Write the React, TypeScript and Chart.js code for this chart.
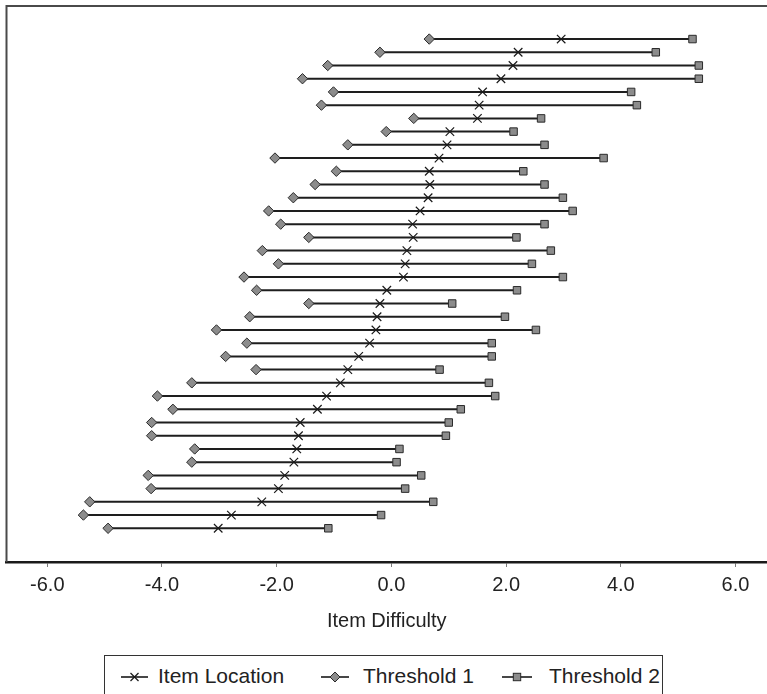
import React, { useEffect, useRef } from 'react';
import { Chart, registerables } from 'chart.js';

Chart.register(...registerables);

// ---- data ----
const ITEMS = [
  1, 2, 3, 4, 5, 6, 7, 8, 9, 10, 11, 12, 13, 14, 15, 16, 17, 18, 19,
  20, 21, 22, 23, 24, 25, 26, 27, 28, 29, 30, 31, 32, 33, 34, 35, 36, 37, 38,
];
const THRESHOLD_1 = [
  0.66, -0.2, -1.11, -1.55, -1.01, -1.22, 0.39, -0.09, -0.76, -2.03,
  -0.96, -1.33, -1.71, -2.14, -1.93, -1.44, -2.25, -1.97, -2.57, -2.35,
  -1.44, -2.47, -3.05, -2.52, -2.89, -2.36, -3.48, -4.08, -3.81, -4.18,
  -4.18, -3.43, -3.48, -4.24, -4.19, -5.26, -5.37, -4.94,
];
const ITEM_LOCATION = [
  2.96, 2.21, 2.12, 1.91, 1.59, 1.53, 1.5, 1.02, 0.97, 0.83,
  0.66, 0.67, 0.64, 0.5, 0.37, 0.38, 0.27, 0.24, 0.21, -0.08,
  -0.2, -0.25, -0.27, -0.38, -0.57, -0.76, -0.89, -1.13, -1.29, -1.59,
  -1.62, -1.65, -1.7, -1.86, -1.97, -2.26, -2.79, -3.02,
];
const THRESHOLD_2 = [
  5.25, 4.61, 5.36, 5.36, 4.18, 4.28, 2.61, 2.13, 2.67, 3.7,
  2.3, 2.67, 2.99, 3.16, 2.67, 2.18, 2.78, 2.45, 2.99, 2.19,
  1.06, 1.98, 2.52, 1.75, 1.75, 0.84, 1.7, 1.81, 1.21, 1.0,
  0.95, 0.14, 0.09, 0.52, 0.24, 0.73, -0.18, -1.1,
];
const X_TICKS = [-6, -4, -2, 0, 2, 4, 6];
const SERIES_NAMES = ['Item Location', 'Threshold 1', 'Threshold 2'];
const AXIS_TITLE = 'Item Difficulty';

const FONT = '"Liberation Sans", Arial, Helvetica, sans-serif';
const MARKER_FILL = '#8c8c8c';
const MARKER_EDGE = '#2a2a2a';

const framePlugin = {
  id: 'frame',
  afterDraw(chart: any) {
    const { ctx, chartArea, width } = chart;
    const { left, top, bottom } = chartArea;
    ctx.save();
    ctx.strokeStyle = '#4a4a4a';
    ctx.lineWidth = 2;
    ctx.beginPath();
    ctx.moveTo(left, bottom);
    ctx.lineTo(left, top);
    ctx.lineTo(width + 2, top);
    ctx.stroke();
    ctx.restore();
  },
};

function Icon({ kind, width }: { kind: string; width: number }) {
  const h = 14;
  const cy = h / 2;
  const cx = width / 2;
  let marker: React.ReactNode = null;
  if (kind === 'cross') {
    marker = (
      <g stroke="#1a1a1a" strokeWidth={1.2}>
        <line x1={cx - 4} y1={cy - 4} x2={cx + 4} y2={cy + 4} />
        <line x1={cx - 4} y1={cy + 4} x2={cx + 4} y2={cy - 4} />
      </g>
    );
  } else if (kind === 'diamond') {
    marker = (
      <polygon
        points={`${cx},${cy - 5} ${cx + 5},${cy} ${cx},${cy + 5} ${cx - 5},${cy}`}
        fill={MARKER_FILL}
        stroke={MARKER_EDGE}
        strokeWidth={1}
      />
    );
  } else {
    marker = (
      <rect x={cx - 3.7} y={cy - 3.7} width={7.4} height={7.4} fill={MARKER_FILL} stroke={MARKER_EDGE} strokeWidth={1} />
    );
  }
  return (
    <svg width={width} height={h} style={{ display: 'block' }}>
      <line x1={0} y1={cy} x2={width} y2={cy} stroke="#1a1a1a" strokeWidth={1.6} />
      {marker}
    </svg>
  );
}

export default function App() {
  const ref = useRef<HTMLCanvasElement | null>(null);

  useEffect(() => {
    document.body.style.margin = '0';
    document.body.style.overflow = 'hidden';
    const canvas = ref.current;
    if (!canvas) return;

    const rangeData: any[] = [];
    ITEMS.forEach((it, i) => {
      rangeData.push({ x: THRESHOLD_1[i], y: it });
      rangeData.push({ x: THRESHOLD_2[i], y: it });
      rangeData.push({ x: NaN, y: NaN });
    });

    const chart = new Chart(canvas, {
      type: 'scatter',
      data: {
        datasets: [
          {
            label: SERIES_NAMES[0],
            data: ITEMS.map((it, i) => ({ x: ITEM_LOCATION[i], y: it })),
            pointStyle: 'crossRot',
            pointRadius: 6,
            borderColor: '#1a1a1a',
            borderWidth: 1.2,
            showLine: false,
            order: 0,
          } as any,
          {
            label: SERIES_NAMES[1],
            data: ITEMS.map((it, i) => ({ x: THRESHOLD_1[i], y: it })),
            pointStyle: 'rectRot',
            pointRadius: 5.2,
            backgroundColor: MARKER_FILL,
            borderColor: MARKER_EDGE,
            borderWidth: 1,
            showLine: false,
            order: 0,
          },
          {
            label: SERIES_NAMES[2],
            data: ITEMS.map((it, i) => ({ x: THRESHOLD_2[i], y: it })),
            pointStyle: 'rect',
            pointRadius: 5.3,
            backgroundColor: MARKER_FILL,
            borderColor: MARKER_EDGE,
            borderWidth: 1,
            showLine: false,
            order: 0,
          },
          {
            label: 'range',
            data: rangeData,
            showLine: true,
            spanGaps: false,
            pointRadius: 0,
            borderColor: '#1e1e1e',
            borderWidth: 2,
            order: 10,
          },
        ],
      },
      options: {
        animation: false,
        responsive: false,
        devicePixelRatio: 1,
        layout: { autoPadding: false, padding: { left: 6.5, top: 6, right: 0, bottom: 0 } },
        font: { family: FONT },
        plugins: {
          legend: { display: false },
          tooltip: { enabled: false },
        },
        scales: {
          x: {
            type: 'linear',
            min: -6.711,
            max: 6.549,
            afterBuildTicks: (s: any) => {
              s.ticks = X_TICKS.map((v) => ({ value: v }));
            },
            afterFit: (s: any) => {
              s.height = 88;
              s.paddingLeft = 0;
              s.paddingRight = 0;
            },
            grid: {
              drawOnChartArea: false,
              drawTicks: true,
              tickLength: 5,
              color: '#7a7a7a',
              lineWidth: 1,
            },
            border: { display: true, color: '#1a1a1a', width: 2.5 },
            ticks: {
              callback: (v: any) => Number(v).toFixed(1),
              font: { size: 20, family: FONT },
              color: '#222',
              padding: 6,
              maxRotation: 0,
              autoSkip: false,
            },
            title: {
              display: true,
              text: AXIS_TITLE,
              font: { size: 20, family: FONT },
              color: '#222',
              padding: { top: 0, bottom: 17 },
            },
          },
          y: {
            type: 'linear',
            display: false,
            reverse: true,
            min: -1.5,
            max: 40.55,
          },
        },
      } as any,
      plugins: [framePlugin],
    });
    return () => chart.destroy();
  }, []);

  const legendItems = [
    { kind: 'cross', iconLeft: 16, iconWidth: 27, textLeft: 53, text: SERIES_NAMES[0] },
    { kind: 'diamond', iconLeft: 216, iconWidth: 28, textLeft: 258, text: SERIES_NAMES[1] },
    { kind: 'square', iconLeft: 397, iconWidth: 30, textLeft: 444, text: SERIES_NAMES[2] },
  ];

  return (
    <div style={{ position: 'relative', width: 767, height: 694, overflow: 'hidden', background: '#fff' }}>
      <canvas ref={ref} width={767} height={650} style={{ display: 'block', width: 767, height: 650 }} />
      <div
        style={{
          position: 'absolute',
          left: 104,
          top: 655,
          width: 559,
          height: 60,
          border: '1px solid #333',
          boxSizing: 'border-box',
          fontFamily: FONT,
          fontSize: 21,
          color: '#222',
        }}
      >
        {legendItems.map((it) => (
          <React.Fragment key={it.text}>
            <div style={{ position: 'absolute', left: it.iconLeft, top: 14 }}>
              <Icon kind={it.kind} width={it.iconWidth} />
            </div>
            <div style={{ position: 'absolute', left: it.textLeft, top: 8, lineHeight: '24px', whiteSpace: 'nowrap' }}>
              {it.text}
            </div>
          </React.Fragment>
        ))}
      </div>
    </div>
  );
}
